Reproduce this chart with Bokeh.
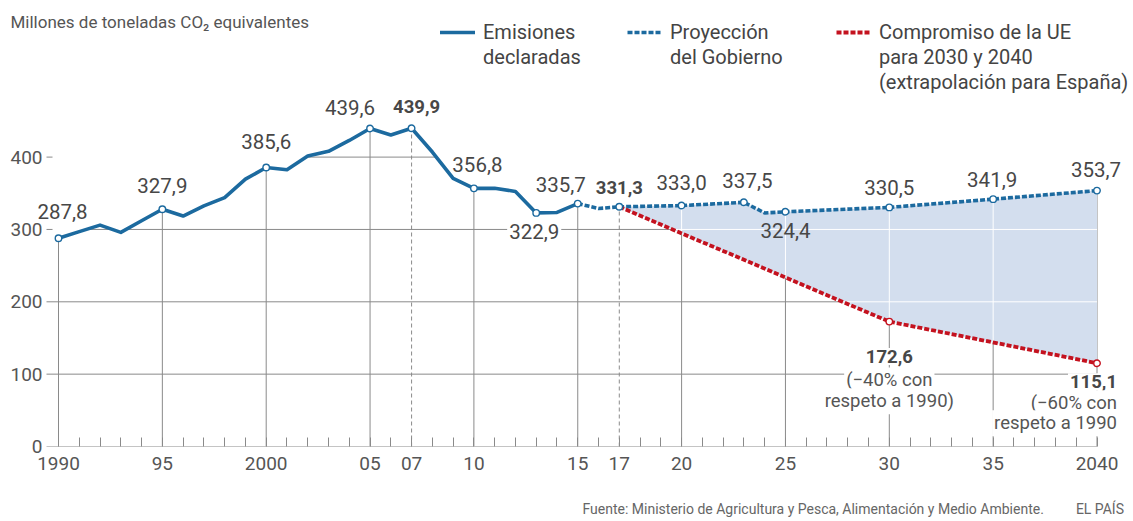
import numpy as np
from bokeh.plotting import figure
from bokeh.models import Range1d, FixedTicker, Label, Legend, LegendItem, Title
from bokeh.embed import file_html
from bokeh.resources import INLINE

# ---------------- data ----------------
hist_years = list(range(1990, 2016))
hist_values = [287.8, 297.0, 306.0, 296.0, 312.0, 327.9, 318.5, 332.5, 344.0, 369.5,
               385.6, 382.5, 401.5, 408.0, 423.0, 439.6, 430.5, 439.9, 407.0, 370.5,
               356.8, 357.0, 352.5, 322.9, 323.5, 335.7]
proj_years = [2015, 2016, 2017, 2020, 2023, 2024, 2025, 2030, 2035, 2040]
proj_values = [335.7, 329.0, 331.3, 333.0, 337.5, 322.8, 324.4, 330.5, 341.9, 353.7]
eu_years = [2017, 2030, 2040]
eu_values = [331.3, 172.6, 115.1]

hist_marker_years = [1990, 1995, 2000, 2005, 2007, 2010, 2013, 2015]
proj_marker_years = [2017, 2020, 2023, 2025, 2030, 2035, 2040]
eu_marker_years = [2030, 2040]

x_ticks = [1990, 1995, 2000, 2005, 2007, 2010, 2015, 2017, 2020, 2025, 2030, 2035, 2040]
x_tick_labels = ["1990", "95", "2000", "05", "07", "10", "15", "17", "20", "25", "30", "35", "2040"]
dashed_years = [2007, 2017]
y_ticks = [0, 100, 200, 300, 400]

legend_texts = [["Emisiones", "declaradas"],
                ["Proyección", "del Gobierno"],
                ["Compromiso de la UE", "para 2030 y 2040", "(extrapolación para España)"]]
title_text = "Millones de toneladas CO₂ equivalentes"
source_text = "Fuente: Ministerio de Agricultura y Pesca, Alimentación y Medio Ambiente."
brand_text = "EL PAÍS"
note_2030 = ["(−40% con", "respeto a 1990)"]
note_2040 = ["(−60% con", "respeto a 1990"]

# ---------------- style / layout ----------------
BLUE = "#1c6a9f"
RED = "#c4121f"
FILL = "#d3deee"
GRID = "#8a8a8a"
TXT = "#474747"
FONT = "Roboto"

W, H = 1133, 521
BB = 75
FW, FH = W, H - BB                    # frame covers the full width, top of the page
PPY = 20.77                           # pixels per year
PPU = 0.7235                          # pixels per Mt
X_START = hist_years[0] - 58 / PPY
X_END = X_START + FW / PPY
Y_END = FH / PPU


def px2x(px):
    return X_START + px / PPY


def py2y(py):
    return (FH - py) / PPU


p = figure(width=W, height=H, x_range=Range1d(X_START, X_END), y_range=Range1d(0, Y_END),
           output_backend="svg", toolbar_location=None,
           min_border_left=0, min_border_right=0, min_border_top=0, min_border_bottom=BB,
           outline_line_color=None, background_fill_color="white")
p.grid.visible = False

# axes
p.xaxis.ticker = FixedTicker(ticks=x_ticks, minor_ticks=list(range(hist_years[0], proj_years[-1] + 1)))
p.xaxis.major_label_overrides = {t: l for t, l in zip(x_ticks, x_tick_labels)}
p.xaxis.axis_line_color = None
p.xaxis.major_tick_line_color = None
p.xaxis.major_tick_in = 0
p.xaxis.major_tick_out = 0
p.xaxis.minor_tick_in = 9
p.xaxis.minor_tick_out = 0
p.xaxis.minor_tick_line_color = GRID
p.xaxis.major_label_standoff = 10
# blank axis label used as a spacer between the tick labels and the source line
p.xaxis.axis_label = " "
p.xaxis.axis_label_text_font_size = "16px"
p.xaxis.axis_label_standoff = 6
p.yaxis.ticker = FixedTicker(ticks=y_ticks)
p.yaxis.axis_line_color = None
p.yaxis.major_tick_line_color = None
p.yaxis.minor_tick_line_color = None
p.yaxis.major_tick_in = 0
p.yaxis.major_tick_out = 0
p.yaxis.major_label_standoff = -42      # labels sit inside the frame, left of the grid start
for ax in (p.xaxis[0], p.yaxis[0]):
    ax.major_label_text_font = FONT
    ax.major_label_text_font_size = "19px"
    ax.major_label_text_color = "#555555"

# envelope (upper edge of the coloured area)
env_x = np.array(hist_years + proj_years[1:], dtype=float)
env_y = np.array(hist_values + proj_values[1:], dtype=float)

grid_start = hist_years[0] - 12 / PPY
# horizontal grid lines
p.segment(x0=[grid_start] * len(y_ticks), y0=y_ticks, x1=[proj_years[-1]] * len(y_ticks), y1=y_ticks,
          line_color=GRID, line_width=1)
# vertical grid lines up to the curve
vx = [t for t in x_ticks if t not in dashed_years]
p.segment(x0=vx, y0=[0] * len(vx), x1=vx, y1=list(np.interp(vx, env_x, env_y)),
          line_color=GRID, line_width=1)
p.segment(x0=dashed_years, y0=[0] * len(dashed_years), x1=dashed_years,
          y1=list(np.interp(dashed_years, env_x, env_y)),
          line_color=GRID, line_width=1, line_dash="4 3")

# white mask above the curve (gridlines only under the data)
mask_x = np.concatenate([[hist_years[0] - 6 / PPY], env_x])
mask_y = np.concatenate([[hist_values[0]], env_y])
p.varea(x=mask_x, y1=mask_y, y2=Y_END, fill_color="white")

# gap between government projection and EU commitment
fx = np.union1d(proj_years, eu_years)
fx = fx[fx >= eu_years[0]]
f_lo = np.interp(fx, eu_years, eu_values)
f_hi = np.interp(fx, proj_years, proj_values)
p.varea(x=fx, y1=f_lo, y2=f_hi, fill_color=FILL)

# white grid lines inside the filled gap
hx0, hy = [], []
for L in y_ticks:
    if min(eu_values) < L < f_hi.min():
        hx0.append(float(np.interp(L, eu_values[::-1], eu_years[::-1])))
        hy.append(L)
p.segment(x0=hx0, y0=hy, x1=[proj_years[-1]] * len(hy), y1=hy, line_color="white", line_width=1)
wx = [t for t in x_ticks if eu_years[0] < t < eu_years[-1]]
p.segment(x0=wx, y0=list(np.interp(wx, eu_years, eu_values)), x1=wx,
          y1=list(np.interp(wx, proj_years, proj_values)), line_color="white", line_width=1)

# series lines
r_hist = p.line(hist_years, hist_values, line_color=BLUE, line_width=3.6, line_join="round", line_cap="round")
r_proj = p.line(proj_years, proj_values, line_color=BLUE, line_width=3.6, line_dash="5 2")
r_eu = p.line(eu_years, eu_values, line_color=RED, line_width=3.8, line_dash="5 2")
r_blank = p.line(x=[], y=[], line_alpha=0)


def lookup(years, values, ys):
    d = dict(zip(years, values))
    return [d[y] for y in ys]


for yrs, vals, mk, col in [(hist_years, hist_values, hist_marker_years, BLUE),
                           (proj_years, proj_values, proj_marker_years, BLUE),
                           (eu_years, eu_values, eu_marker_years, RED)]:
    p.scatter(mk, lookup(yrs, vals, mk), size=6.5, fill_color="white", line_color=col, line_width=1.4)

# value labels: (series, year, dx, dy, align, bold, white background)
series = {"hist": (hist_years, hist_values), "proj": (proj_years, proj_values), "eu": (eu_years, eu_values)}
label_specs = [
    ("hist", 1990, 4, 27, "center", False, False),
    ("hist", 1995, 0, 23.5, "center", False, False),
    ("hist", 2000, 0, 26, "center", False, False),
    ("hist", 2005, -20, 21, "center", False, False),
    ("hist", 2007, 5, 22, "center", True, False),
    ("hist", 2010, 3.5, 24, "center", False, False),
    ("hist", 2013, -2, -19, "center", False, True),
    ("hist", 2015, -17, 19, "center", False, False),
    ("proj", 2017, 0, 19, "center", True, False),
    ("proj", 2020, 0, 23, "center", False, False),
    ("proj", 2023, 3.5, 22, "center", False, False),
    ("proj", 2025, 0, -19, "center", False, False),
    ("proj", 2030, 0, 20, "center", False, False),
    ("proj", 2035, -1, 20, "center", False, False),
    ("proj", 2040, -1, 21, "center", False, False),
    ("eu", 2030, 0, -35, "center", True, True),
    ("eu", 2040, 22, -18.5, "right", True, True),
]
for s, yr, dx, dy, al, bold, bg in label_specs:
    yrs, vals = series[s]
    v = lookup(yrs, vals, [yr])[0]
    lab = Label(x=yr, y=v, x_offset=dx, y_offset=dy, text=f"{v:.1f}".replace(".", ","),
                text_align=al, text_baseline="middle", text_font=FONT,
                text_font_size="18.5px" if bold else "20.5px",
                text_font_style="bold" if bold else "normal", text_color=TXT)
    if bg:
        lab.background_fill_color = "white"
        lab.padding = 2
    p.add_layout(lab)

# notes under the EU points
for (yr, dx, al, lines, dys) in [(eu_marker_years[0], 0, "center", note_2030, [-58.8, -79.6]),
                                 (eu_marker_years[1], 22, "right", note_2040, [-40, -60])]:
    v = lookup(eu_years, eu_values, [yr])[0]
    for t, dy in zip(lines, dys):
        p.add_layout(Label(x=yr, y=v, x_offset=dx, y_offset=dy, text=t, text_align=al,
                           text_baseline="middle", text_font=FONT, text_font_size="18.5px",
                           text_color="#555555", background_fill_color="white", padding=2))

# legends
leg_pos = [(440, 32), (627, 32), (836, 32)]
for (lx, ly), texts, rend in zip(leg_pos, legend_texts, [r_hist, r_proj, r_eu]):
    items = [LegendItem(label=texts[0], renderers=[rend])]
    items += [LegendItem(label=t, renderers=[r_blank]) for t in texts[1:]]
    row_h = 25
    bottom_page = ly - row_h / 2 + row_h * len(texts)
    leg = Legend(items=items, location=(lx, FH - bottom_page),
                 orientation="vertical", spacing=0, padding=0, margin=0,
                 glyph_width=35, glyph_height=18, label_height=row_h, label_standoff=8,
                 label_text_font=FONT, label_text_font_size="20px", label_text_color="#444444",
                 border_line_color=None, background_fill_alpha=0)
    p.add_layout(leg)

# title (inside the frame) and source (below the axis)
p.add_layout(Label(x=px2x(10), y=py2y(21), text=title_text, text_align="left", text_baseline="middle",
                   text_font=FONT, text_font_size="17px", text_color="#555555"))
p.add_layout(Title(text=source_text + "\u2003\u2003 " + brand_text, align="left", offset=582,
                   standoff=0, text_font=FONT, text_font_size="14px", text_font_style="normal",
                   text_color="#666666"), "below")

open("out.html", "w").write(file_html(p, INLINE))
